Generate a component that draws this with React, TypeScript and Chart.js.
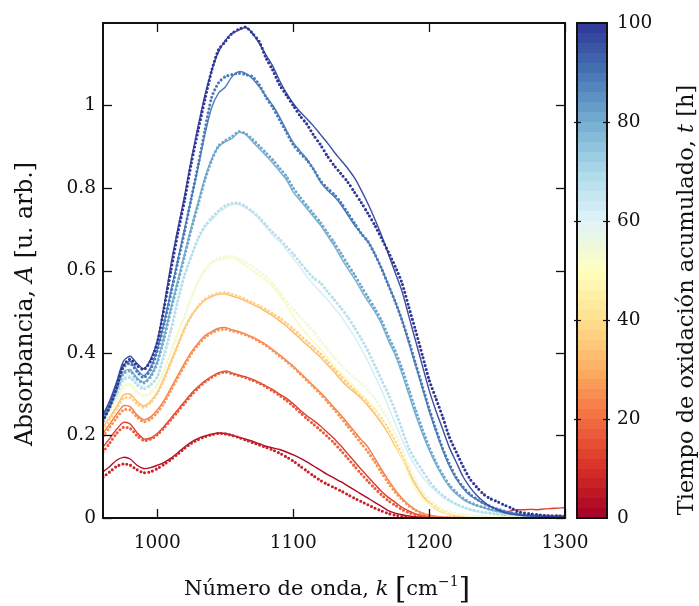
import React, { useEffect, useRef } from 'react';
import { Chart, registerables } from 'chart.js';
Chart.register(...registerables);

const SERIF = "'DejaVu Serif', 'Liberation Serif', serif";
const INK = '#111';
const TICK_SIZE = 18.5;
const TITLE_SIZE = 21;
const Y_TITLE_SIZE = 23.5;
const CBAR_TITLE_SIZE = 22.5;

const WAVENUMBER = [
  960, 965, 970, 975, 980, 985, 990, 995, 1000, 1005,
  1010, 1015, 1020, 1025, 1030, 1035, 1040, 1045, 1050, 1055,
  1060, 1065, 1070, 1075, 1080, 1085, 1090, 1095, 1100, 1105,
  1110, 1115, 1120, 1125, 1130, 1135, 1140, 1145, 1150, 1155,
  1160, 1165, 1170, 1175, 1180, 1185, 1190, 1195, 1200, 1205,
  1210, 1215, 1220, 1225, 1230, 1235, 1240, 1245, 1250, 1255,
  1260, 1265, 1270, 1275, 1280, 1285, 1290, 1295, 1300,
];

const X_TICKS = [1000, 1100, 1200, 1300];
const Y_TICKS = [0, 0.2, 0.4, 0.6, 0.8, 1];
const Y_TICK_LABELS = ['0', '0.2', '0.4', '0.6', '0.8', '1'];
const CBAR_TICKS = [0, 20, 40, 60, 80, 100];

// oxidation time (h) assigned to each solid / dotted curve (colour)
const T_SOLID = [2, 12, 22, 32, 48, 62, 79, 88, 96];
const T_DOTS = [7, 17, 26, 37, 55, 68, 81, 89, 100];

const SOLID_1 = [
  .112, .125, .140, .147, .143, .128, .120, .122, .128, .135,
  .145, .158, .172, .184, .193, .199, .203, .206, .205, .201,
  .196, .191, .186, .180, .174, .170, .166, .160, .153, .145,
  .136, .126, .116, .106, .097, .088, .078, .068, .058, .048,
  .038, .028, .018, .012, .008, .005, .003, .002, .001, .001,
  .001, 0, 0, 0, 0, 0, 0, 0, 0, .001,
  .002, .002, .003, .003, .003, .003, .004, .004, .004,
];
const DOTS_1 = [
  .099, .112, .125, .131, .128, .117, .110, .112, .120, .130,
  .142, .155, .169, .181, .190, .197, .202, .205, .204, .200,
  .195, .189, .183, .177, .171, .165, .157, .148, .138, .126,
  .114, .102, .091, .082, .074, .066, .057, .048, .040, .032,
  .024, .017, .011, .007, .004, .002, .001, .001, 0, 0,
  0, 0, 0, 0, 0, 0, 0, 0, 0, 0,
  0, 0, 0, 0, 0, 0, 0, 0, 0,
];
const SOLID_2 = [
  .172, .193, .215, .232, .228, .207, .192, .194, .205, .222,
  .242, .262, .282, .302, .318, .332, .343, .352, .356, .352,
  .346, .342, .336, .328, .320, .311, .300, .290, .277, .262,
  .248, .236, .223, .208, .193, .175, .156, .137, .118, .100,
  .082, .064, .050, .038, .026, .017, .010, .006, .003, .002,
  .001, .001, 0, 0, 0, 0, 0, .001, .002, .006,
  .018, .020, .020, .021, .020, .022, .023, .024, .025,
];
const DOTS_2 = [
  .160, .182, .205, .220, .217, .200, .188, .191, .202, .219,
  .238, .258, .278, .298, .315, .330, .341, .350, .354, .350,
  .345, .340, .334, .327, .318, .308, .297, .285, .271, .256,
  .241, .227, .213, .198, .182, .164, .145, .126, .107, .089,
  .072, .056, .042, .031, .021, .013, .008, .004, .002, .001,
  0, 0, 0, 0, 0, 0, 0, 0, 0, 0,
  0, 0, 0, 0, 0, 0, 0, 0, 0,
];
const SOLID_3 = [
  .205, .228, .252, .272, .270, .250, .238, .245, .262, .285,
  .315, .345, .375, .402, .424, .442, .452, .460, .462, .456,
  .452, .446, .438, .430, .420, .408, .395, .382, .368, .352,
  .336, .320, .304, .287, .268, .250, .230, .210, .190, .172,
  .145, .118, .092, .068, .048, .032, .020, .012, .007, .004,
  .002, .001, 0, 0, 0, 0, 0, 0, 0, .001,
  .003, .004, .005, .005, .005, .006, .006, .006, .006,
];
const DOTS_3 = [
  .198, .220, .243, .262, .262, .245, .233, .240, .256, .280,
  .310, .340, .370, .398, .420, .438, .449, .456, .458, .454,
  .450, .444, .437, .428, .418, .406, .393, .380, .366, .350,
  .334, .318, .301, .283, .264, .244, .223, .202, .181, .160,
  .136, .110, .085, .063, .045, .030, .019, .011, .006, .003,
  .001, 0, 0, 0, 0, 0, 0, 0, 0, 0,
  0, 0, 0, 0, 0, 0, 0, 0, 0,
];
const SOLID_4 = [
  .220, .245, .270, .298, .300, .283, .272, .283, .305, .340,
  .380, .420, .460, .490, .512, .528, .537, .542, .543, .538,
  .533, .526, .518, .510, .500, .490, .478, .465, .450, .435,
  .420, .405, .390, .372, .355, .335, .318, .305, .290, .272,
  .252, .230, .205, .175, .145, .110, .080, .055, .035, .022,
  .014, .009, .006, .004, .003, .002, .002, .002, .002, .002,
  .002, .002, .002, .002, .002, .002, .002, .002, .002,
];
const DOTS_4 = [
  .215, .240, .265, .290, .292, .277, .268, .280, .302, .337,
  .377, .418, .458, .490, .513, .530, .540, .545, .546, .542,
  .537, .530, .522, .514, .505, .495, .485, .472, .458, .443,
  .428, .413, .398, .380, .362, .344, .326, .310, .296, .280,
  .262, .240, .215, .185, .152, .118, .086, .060, .040, .026,
  .016, .010, .006, .004, .002, .001, 0, 0, 0, 0,
  0, 0, 0, 0, 0, 0, 0, 0, 0,
];
const SOLID_5 = [
  .235, .262, .290, .320, .325, .308, .298, .305, .325, .360,
  .405, .450, .490, .535, .575, .602, .618, .625, .628, .630,
  .622, .612, .600, .588, .575, .560, .540, .515, .490, .466,
  .445, .428, .410, .390, .370, .352, .335, .318, .300, .285,
  .262, .238, .210, .180, .145, .105, .070, .048, .034, .024,
  .015, .010, .008, .006, .005, .004, .003, .003, .003, .003,
  .003, .003, .003, .003, .003, .003, .003, .003, .003,
];
const DOTS_5 = [
  .232, .258, .285, .315, .322, .305, .295, .302, .322, .357,
  .400, .445, .488, .533, .573, .600, .620, .630, .633, .635,
  .628, .620, .610, .597, .584, .568, .548, .525, .505, .488,
  .470, .452, .430, .410, .390, .372, .355, .340, .327, .310,
  .290, .265, .238, .205, .168, .128, .092, .065, .045, .032,
  .022, .015, .011, .008, .006, .005, .004, .004, .004, .004,
  .004, .004, .004, .004, .004, .004, .004, .004, .004,
];
const SOLID_6 = [
  .240, .270, .305, .340, .345, .328, .318, .325, .345, .400,
  .460, .530, .590, .635, .675, .705, .722, .740, .752, .760,
  .760, .752, .740, .725, .705, .685, .670, .650, .630, .608,
  .585, .565, .548, .530, .510, .490, .465, .440, .410, .380,
  .345, .310, .270, .230, .190, .155, .125, .100, .080, .065,
  .050, .040, .032, .025, .020, .016, .013, .011, .009, .008,
  .007, .006, .005, .005, .004, .004, .004, .004, .004,
];
const DOTS_6 = [
  .236, .266, .300, .335, .340, .323, .313, .322, .342, .395,
  .455, .525, .588, .635, .678, .708, .728, .745, .757, .763,
  .763, .755, .743, .728, .710, .692, .676, .658, .640, .620,
  .600, .582, .570, .550, .530, .510, .488, .462, .435, .405,
  .370, .335, .300, .260, .215, .170, .140, .115, .090, .070,
  .055, .043, .034, .027, .021, .017, .014, .012, .010, .009,
  .008, .007, .006, .005, .005, .005, .004, .004, .004,
];
const SOLID_7 = [
  .245, .275, .315, .355, .360, .340, .330, .345, .380, .440,
  .510, .575, .640, .705, .765, .825, .870, .900, .912, .920,
  .935, .930, .912, .895, .878, .860, .840, .820, .790, .770,
  .750, .730, .710, .685, .660, .632, .605, .580, .552, .525,
  .500, .470, .430, .395, .350, .300, .250, .205, .165, .130,
  .100, .075, .058, .045, .036, .030, .025, .020, .016, .013,
  .010, .008, .007, .006, .005, .005, .004, .004, .004,
];
const DOTS_7 = [
  .240, .270, .310, .350, .356, .337, .327, .342, .377, .436,
  .505, .570, .635, .700, .760, .820, .868, .902, .915, .925,
  .937, .932, .918, .902, .885, .868, .848, .828, .800, .778,
  .757, .737, .716, .692, .668, .642, .615, .590, .562, .535,
  .508, .478, .440, .405, .362, .312, .262, .215, .172, .135,
  .105, .080, .062, .048, .038, .031, .026, .021, .017, .014,
  .011, .009, .007, .006, .005, .005, .004, .004, .004,
];
const SOLID_8 = [
  .250, .280, .325, .370, .380, .360, .345, .365, .410, .475,
  .550, .625, .700, .775, .850, .930, .995, 1.030, 1.045, 1.070,
  1.082, 1.078, 1.065, 1.045, 1.022, 1.000, .972, .940, .910, .890,
  .870, .845, .815, .795, .780, .760, .735, .710, .690, .670,
  .640, .605, .565, .525, .480, .425, .370, .315, .260, .210,
  .165, .125, .095, .072, .055, .045, .035, .028, .022, .017,
  .013, .010, .008, .007, .006, .005, .005, .004, .004,
];
const DOTS_8 = [
  .245, .275, .320, .365, .375, .355, .340, .360, .405, .470,
  .545, .620, .695, .775, .855, .940, 1.020, 1.055, 1.070, 1.075,
  1.078, 1.075, 1.070, 1.050, 1.020, .995, .965, .935, .905, .885,
  .868, .845, .818, .800, .785, .765, .740, .715, .690, .670,
  .640, .605, .565, .525, .480, .430, .375, .320, .265, .215,
  .168, .130, .098, .075, .058, .046, .036, .028, .022, .017,
  .013, .010, .008, .007, .006, .005, .005, .004, .004,
];
const SOLID_9 = [
  .250, .285, .330, .380, .392, .375, .362, .385, .430, .515,
  .615, .700, .780, .870, .950, 1.025, 1.085, 1.130, 1.158, 1.175,
  1.183, 1.189, 1.175, 1.150, 1.122, 1.095, 1.060, 1.030, 1.005, .985,
  .968, .950, .930, .910, .888, .868, .848, .825, .795, .762,
  .725, .685, .640, .595, .550, .490, .430, .370, .310, .260,
  .215, .170, .135, .100, .075, .055, .040, .028, .020, .014,
  .010, .008, .006, .005, .004, .004, .003, .003, .003,
];
const DOTS_9 = [
  .235, .270, .315, .370, .385, .370, .360, .380, .425, .510,
  .600, .690, .770, .860, .940, 1.015, 1.085, 1.135, 1.155, 1.175,
  1.185, 1.190, 1.175, 1.155, 1.115, 1.085, 1.050, 1.025, 1.000, .975,
  .955, .928, .905, .878, .855, .835, .815, .790, .765, .738,
  .710, .678, .645, .610, .570, .512, .455, .395, .335, .290,
  .245, .195, .160, .125, .095, .075, .058, .047, .040, .032,
  .025, .016, .012, .010, .008, .006, .005, .005, .004,
];

const SOLIDS = [SOLID_1, SOLID_2, SOLID_3, SOLID_4, SOLID_5, SOLID_6, SOLID_7, SOLID_8, SOLID_9];
const DOTS = [DOTS_1, DOTS_2, DOTS_3, DOTS_4, DOTS_5, DOTS_6, DOTS_7, DOTS_8, DOTS_9];

// RdYlBu colormap anchors (t = 0 … 100)
const RDYLBU = ['#a50026', '#d73027', '#f46d43', '#fdae61', '#fee090', '#ffffbf', '#e0f3f8', '#abd9e9', '#74add1', '#4575b4', '#313695'];
const CBAR_BANDS = 50;

function hexToRgb(h: string) {
  return [parseInt(h.slice(1, 3), 16), parseInt(h.slice(3, 5), 16), parseInt(h.slice(5, 7), 16)];
}
function cmap(t: number) {
  const f = Math.max(0, Math.min(1, t / 100)) * (RDYLBU.length - 1);
  const i = Math.min(Math.floor(f), RDYLBU.length - 2);
  const u = f - i;
  const a = hexToRgb(RDYLBU[i]);
  const b = hexToRgb(RDYLBU[i + 1]);
  const c = a.map((v, k) => Math.round(v + (b[k] - v) * u));
  return `rgb(${c[0]},${c[1]},${c[2]})`;
}

type Part = { t: string; italic?: boolean; size?: number; dy?: number };
function drawRich(ctx: CanvasRenderingContext2D, parts: Part[], cx: number, cy: number, rot: number, base: number) {
  ctx.save();
  ctx.translate(cx, cy);
  ctx.rotate(rot);
  ctx.textBaseline = 'alphabetic';
  ctx.textAlign = 'left';
  ctx.fillStyle = INK;
  const fontOf = (p: Part) => `${p.italic ? 'italic ' : ''}${p.size ?? base}px ${SERIF}`;
  let total = 0;
  const widths = parts.map((p) => {
    ctx.font = fontOf(p);
    const w = ctx.measureText(p.t).width;
    total += w;
    return w;
  });
  let x = -total / 2;
  parts.forEach((p, i) => {
    ctx.font = fontOf(p);
    ctx.fillText(p.t, x, p.dy ?? 0);
    x += widths[i];
  });
  ctx.restore();
}

function strokeLine(ctx: CanvasRenderingContext2D, x1: number, y1: number, x2: number, y2: number) {
  ctx.beginPath();
  ctx.moveTo(x1, y1);
  ctx.lineTo(x2, y2);
  ctx.stroke();
}

const mainFrame = {
  id: 'mainFrame',
  afterDatasetsDraw(chart: any) {
    const { ctx, chartArea: a, scales } = chart;
    ctx.save();
    ctx.strokeStyle = INK;
    ctx.lineWidth = 1.3;
    const L = 9;
    X_TICKS.forEach((v) => {
      const px = Math.round(scales.x.getPixelForValue(v)) + 0.5;
      strokeLine(ctx, px, a.bottom, px, a.bottom - L);
      strokeLine(ctx, px, a.top, px, a.top + L);
    });
    Y_TICKS.forEach((v) => {
      const py = Math.round(scales.y.getPixelForValue(v)) + 0.5;
      strokeLine(ctx, a.left, py, a.left + L, py);
      strokeLine(ctx, a.right, py, a.right - L, py);
    });
    ctx.lineWidth = 2;
    ctx.strokeRect(a.left, a.top, a.right - a.left, a.bottom - a.top);
    ctx.restore();

    drawRich(ctx, [
      { t: 'Número de onda, ' },
      { t: 'k', italic: true },
      { t: ' ' },
      { t: '[', size: 29, dy: 3 },
      { t: 'cm' },
      { t: '−1', size: 14, dy: -9 },
      { t: ']', size: 29, dy: 3 },
    ], 327, 595, 0, TITLE_SIZE);

    drawRich(ctx, [
      { t: 'Absorbancia, ' },
      { t: 'A', italic: true },
      { t: ' [u. arb.]' },
    ], 32, 304, -Math.PI / 2, Y_TITLE_SIZE);
  },
};

const cbarFrame = {
  id: 'cbarFrame',
  afterDatasetsDraw(chart: any) {
    const { ctx, chartArea: a, scales } = chart;
    ctx.save();
    ctx.strokeStyle = INK;
    ctx.lineWidth = 1.2;
    CBAR_TICKS.forEach((v) => {
      if (v === 0 || v === 100) return;
      const py = Math.round(scales.y.getPixelForValue(v)) + 0.5;
      strokeLine(ctx, a.left - 3, py, a.left + 4, py);
      strokeLine(ctx, a.right - 4, py, a.right + 3, py);
    });
    ctx.lineWidth = 2;
    ctx.strokeRect(a.left, a.top, a.right - a.left, a.bottom - a.top);
    ctx.restore();

    drawRich(ctx, [
      { t: 'Tiempo de oxidación acumulado, ' },
      { t: 't', italic: true },
      { t: ' [h]' },
    ], 133, 300, -Math.PI / 2, CBAR_TITLE_SIZE);
  },
};

export default function App() {
  const mainRef = useRef<HTMLCanvasElement>(null);
  const cbarRef = useRef<HTMLCanvasElement>(null);

  useEffect(() => {
    const datasets: any[] = [];
    // draw blue (late) curves on top: earlier datasets are drawn last
    for (let g = SOLIDS.length - 1; g >= 0; g--) {
      datasets.push({
        data: WAVENUMBER.map((x, i) => ({ x, y: DOTS[g][i] })),
        borderColor: cmap(T_DOTS[g]),
        borderWidth: 3.1,
        borderDash: [0, 4],
        borderCapStyle: 'round',
        pointRadius: 0,
        tension: 0.25,
        fill: false,
      });
      datasets.push({
        data: WAVENUMBER.map((x, i) => ({ x, y: SOLIDS[g][i] })),
        borderColor: cmap(T_SOLID[g]),
        borderWidth: 1.4,
        pointRadius: 0,
        tension: 0.25,
        fill: false,
      });
    }

    const main = new Chart(mainRef.current!, {
      type: 'line',
      data: { datasets },
      plugins: [mainFrame],
      options: {
        animation: false,
        responsive: false,
        devicePixelRatio: 1,
        layout: { padding: { left: 0, top: 23, right: 134, bottom: 0 } },
        plugins: { legend: { display: false }, tooltip: { enabled: false } },
        scales: {
          x: {
            type: 'linear',
            min: 960,
            max: 1300,
            afterBuildTicks: (s: any) => { s.ticks = X_TICKS.map((v) => ({ value: v })); },
            afterFit: (s: any) => { s.height = 88; },
            grid: { display: false, drawTicks: false },
            border: { display: false },
            ticks: {
              padding: 14,
              maxRotation: 0,
              color: INK,
              font: { family: SERIF, size: TICK_SIZE },
              callback: (v: any) => String(v),
            },
          },
          y: {
            type: 'linear',
            min: 0,
            max: 1.2,
            afterBuildTicks: (s: any) => { s.ticks = Y_TICKS.map((v) => ({ value: v })); },
            afterFit: (s: any) => { s.width = 103; },
            grid: { display: false, drawTicks: false },
            border: { display: false },
            ticks: {
              padding: 7,
              color: INK,
              font: { family: SERIF, size: TICK_SIZE },
              callback: (_v: any, i: number) => Y_TICK_LABELS[i],
            },
          },
        },
      },
    } as any);

    const cbar = new Chart(cbarRef.current!, {
      type: 'bar',
      data: {
        labels: [''],
        datasets: [{
          data: [100],
          borderWidth: 0,
          barPercentage: 1,
          categoryPercentage: 1,
          backgroundColor: (c: any) => {
            const a = c.chart.chartArea;
            if (!a) return 'transparent';
            const g = c.chart.ctx.createLinearGradient(0, a.bottom, 0, a.top);
            for (let i = 0; i < CBAR_BANDS; i++) {
              const col = cmap(((i + 0.5) / CBAR_BANDS) * 100);
              g.addColorStop(i / CBAR_BANDS, col);
              g.addColorStop(Math.min(1, (i + 1) / CBAR_BANDS - 1e-4), col);
            }
            return g;
          },
        }],
      },
      plugins: [cbarFrame],
      options: {
        animation: false,
        responsive: false,
        devicePixelRatio: 1,
        layout: { padding: { left: 17, top: 23, right: 0, bottom: 88 } },
        plugins: { legend: { display: false }, tooltip: { enabled: false } },
        scales: {
          x: { display: false },
          y: {
            position: 'right',
            min: 0,
            max: 100,
            afterBuildTicks: (s: any) => { s.ticks = CBAR_TICKS.map((v) => ({ value: v })); },
            afterFit: (s: any) => { s.width = 92; },
            grid: { display: false, drawTicks: false },
            border: { display: false },
            ticks: {
              padding: 10,
              color: INK,
              font: { family: SERIF, size: TICK_SIZE },
            },
          },
        },
      },
    } as any);

    return () => {
      main.destroy();
      cbar.destroy();
    };
  }, []);

  return (
    <div style={{ position: 'absolute', left: 0, top: 0, width: 699, height: 606, background: '#fff' }}>
      <canvas ref={mainRef} width={699} height={606} style={{ position: 'absolute', left: 0, top: 0 }} />
      <canvas ref={cbarRef} width={139} height={606} style={{ position: 'absolute', left: 560, top: 0 }} />
    </div>
  );
}
